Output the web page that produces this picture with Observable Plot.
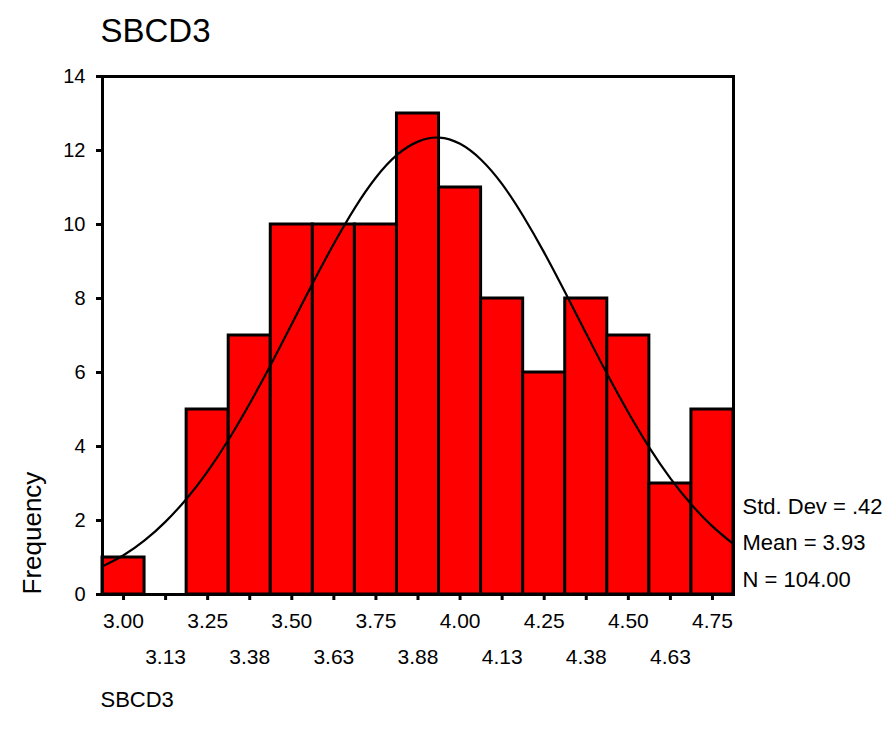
<!DOCTYPE html>
<html>
<head>
<meta charset="utf-8">
<script src="https://cdn.jsdelivr.net/npm/d3@7"></script>
<script src="https://cdn.jsdelivr.net/npm/@observablehq/plot@0.6"></script>
<style>
  html, body { margin: 0; padding: 0; background: #fff; }
  #chart { position: relative; width: 891px; height: 737px; }
  svg { font-family: "Liberation Sans", Arial, sans-serif; }
</style>
</head>
<body>
<div id="chart"></div>
<script>
// ---- data ----
const binCenters = [3.000, 3.125, 3.250, 3.375, 3.500, 3.625, 3.750, 3.875, 4.000, 4.125, 4.250, 4.375, 4.500, 4.625, 4.750];
const counts     = [1, 0, 5, 7, 10, 10, 10, 13, 11, 8, 6, 8, 7, 3, 5];
const binWidth = 0.125;
const tickLabels = ["3.00", "3.13", "3.25", "3.38", "3.50", "3.63", "3.75", "3.88", "4.00", "4.13", "4.25", "4.38", "4.50", "4.63", "4.75"];
// normal curve (x, frequency)
const curveX = [2.9375, 3.0, 3.0625, 3.125, 3.1875, 3.25, 3.3125, 3.375, 3.4375, 3.5, 3.5625, 3.625, 3.6875, 3.75, 3.8125, 3.875, 3.9375, 4.0, 4.0625, 4.125, 4.1875, 4.25, 4.3125, 4.375, 4.4375, 4.5, 4.5625, 4.625, 4.6875, 4.75, 4.8125];
const curveY = [0.76, 1.06, 1.46, 1.97, 2.59, 3.33, 4.19, 5.16, 6.21, 7.31, 8.42, 9.48, 10.45, 11.27, 11.88, 12.24, 12.35, 12.18, 11.75, 11.09, 10.23, 9.24, 8.16, 7.05, 5.95, 4.92, 3.97, 3.14, 2.43, 1.84, 1.36];
const yTicks = [0, 2, 4, 6, 8, 10, 12, 14];
const titleText = "SBCD3";
const xLabelText = "SBCD3";
const yLabelText = "Frequency";
const statsLines = ["Std. Dev = .42", "Mean = 3.93", "N = 104.00"];

const bars = binCenters.map((c, i) => ({x1: c - binWidth / 2, x2: c + binWidth / 2, y: counts[i]}));
const curve = curveX.map((x, i) => ({x, y: curveY[i]}));
const labelsRow1 = binCenters.map((c, i) => ({x: c, t: tickLabels[i], i})).filter(d => d.i % 2 === 0);
const labelsRow2 = binCenters.map((c, i) => ({x: c, t: tickLabels[i], i})).filter(d => d.i % 2 === 1);

const plot = Plot.plot({
  width: 891,
  height: 737,
  marginLeft: 102,
  marginRight: 158,
  marginTop: 76,
  marginBottom: 143,
  style: {fontFamily: "'Liberation Sans', Arial, sans-serif", fontSize: "20px", background: "#fff", color: "#000"},
  x: {domain: [binCenters[0] - binWidth / 2, binCenters[binCenters.length - 1] + binWidth / 2]},
  y: {domain: [0, 14]},
  marks: [
    Plot.rectY(bars, {x1: "x1", x2: "x2", y: "y", fill: "#ff0000", stroke: "#000", strokeWidth: 3, inset: 0}),
    Plot.line(curve, {x: "x", y: "y", stroke: "#000", strokeWidth: 2.2, curve: "natural"}),
    Plot.frame({stroke: "#000", strokeWidth: 3}),
    Plot.axisY(yTicks, {tickSize: 6, tickPadding: 11, fontSize: 20, strokeWidth: 3, label: null, tickFormat: d => String(d)}),
    Plot.axisX(binCenters, {tickSize: 6, strokeWidth: 3, tickFormat: () => "", label: null}),
    Plot.text(labelsRow1, {x: "x", text: "t", frameAnchor: "bottom", dy: 33, lineAnchor: "bottom", fontSize: 21, fill: "#000"}),
    Plot.text(labelsRow2, {x: "x", text: "t", frameAnchor: "bottom", dy: 69, lineAnchor: "bottom", fontSize: 21, fill: "#000"}),
    Plot.text([yLabelText], {frameAnchor: "bottom-left", dx: -70, dy: 0, rotate: -90, textAnchor: "start", lineAnchor: "middle", fontSize: 26, fill: "#000"}),
    Plot.text([statsLines[0]], {frameAnchor: "bottom-right", dx: 9, dy: -81, textAnchor: "start", lineAnchor: "bottom", fontSize: 22, fill: "#000"}),
    Plot.text([statsLines[1]], {frameAnchor: "bottom-right", dx: 9, dy: -45, textAnchor: "start", lineAnchor: "bottom", fontSize: 22, fill: "#000"}),
    Plot.text([statsLines[2]], {frameAnchor: "bottom-right", dx: 9, dy: -8, textAnchor: "start", lineAnchor: "bottom", fontSize: 22, fill: "#000"}),
    Plot.text([titleText], {frameAnchor: "top-left", dx: -2, dy: -35, textAnchor: "start", lineAnchor: "bottom", fontSize: 33, fill: "#000"}),
    Plot.text([xLabelText], {frameAnchor: "bottom-left", dx: -2, dy: 112, textAnchor: "start", lineAnchor: "bottom", fontSize: 22, fill: "#000"})
  ]
});
document.getElementById("chart").appendChild(plot);
</script>
</body>
</html>
